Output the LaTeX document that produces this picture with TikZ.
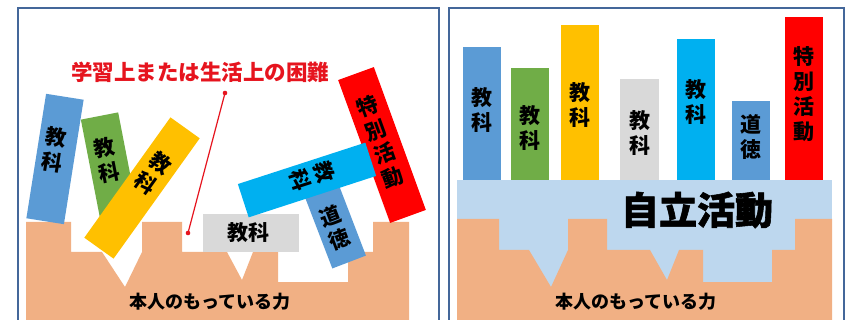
\documentclass[tikz,border=0pt]{standalone}
\usepackage{fontspec}
\newfontfamily\jp{Noto Sans CJK JP}
\newfontfamily\jph{Noto Sans CJK JP}[BoldFeatures={FakeBold=1.5}]
\definecolor{framec}{RGB}{68,103,154}
\definecolor{peach}{RGB}{241,176,132}
\definecolor{skyarea}{RGB}{189,215,238}
\definecolor{cblue}{RGB}{91,155,213}
\definecolor{cgreen}{RGB}{112,173,71}
\definecolor{cyellow}{RGB}{255,192,0}
\definecolor{cgray}{RGB}{217,217,217}
\definecolor{ccyan}{RGB}{0,176,240}
\definecolor{cred}{RGB}{255,0,0}
\definecolor{tred}{RGB}{230,20,30}
\tikzset{
  card/.style={rectangle, inner sep=0pt, draw=none},
  vtext/.style={align=center, inner sep=0pt, font=\jp\bfseries\fontsize{21}{25}\selectfont},
  htext/.style={inner sep=0pt, font=\jp\bfseries\fontsize{21}{25}\selectfont},
  basetext/.style={inner sep=0pt, font=\jp\bfseries\fontsize{18}{20}\selectfont},
  panel/.style={draw=framec, line width=2.5pt},
}
\begin{document}
\begin{tikzpicture}[x=1pt,y=-1pt]
\useasboundingbox (0,0) rectangle (848,320);
\clip (0,0) rectangle (848,320);
\fill[white] (0,0) rectangle (848,320);
% ---------------- left panel ----------------
\fill[peach] (26,222) -- (71,222) -- (71,252) -- (102,252) -- (125,287) -- (142,252)
  -- (142,222) -- (182,222) -- (182,252) -- (227,252) -- (242,280) -- (253,252)
  -- (278,252) -- (278,282) -- (348,282) -- (348,252) -- (373,252) -- (373,222)
  -- (409,222) -- (409,330) -- (26,330) -- cycle;
\node[basetext] (lbase) at (210,302) {本人のもっている力};
% cards
\node[card, fill=cblue, minimum width=38pt, minimum height=126pt, rotate=-9] (lc1) at (55,159) {};
\node[vtext, rotate=-9] (lt1) at (54,150) {教\\科};
\node[card, fill=cgreen, minimum width=38pt, minimum height=110pt, rotate=11] (lc2) at (110,170) {};
\node[vtext, rotate=11] (lt2) at (107,160) {教\\科};
\node[card, fill=cyellow, minimum width=36pt, minimum height=148pt, rotate=-35.6] (lc3) at (142,188) {};
\node[vtext, rotate=-35.6] (lt3) at (153,173) {教\\科};
\node[card, fill=cgray, minimum width=96pt, minimum height=38pt] (lc4) at (251,233) {};
\node[htext] (lt4) at (248,233) {教科};
\node[card, fill=cblue, minimum width=36pt, minimum height=90pt, rotate=21] (lc6) at (333,220) {};
\node[vtext, rotate=21] (lt6) at (335,228) {道\\徳};
\node[card, fill=cred, minimum width=38pt, minimum height=152pt, rotate=20] (lc7) at (382,145) {};
\node[vtext, rotate=20] (lt7) at (380,142) {特\\別\\活\\動};
\node[card, fill=ccyan, minimum width=35pt, minimum height=134pt, rotate=-72] (lc5) at (307,180) {};
\node[vtext, rotate=-72] (lt5) at (312,176) {教\\科};
% title and pointer
\node[inner sep=0pt, text=tred, font=\jp\bfseries\fontsize{21.5}{24}\selectfont] (title) at (200,72) {学習上または生活上の困難};
\coordinate (pa) at (225,93);
\coordinate (pb) at (188,233);
\draw[tred, line width=1.2pt] (pa) -- (pb);
\fill[tred] (pa) circle (2.3pt);
\fill[tred] (pb) circle (2.3pt);
\draw[panel] (18,8) rectangle (439,340);
% ---------------- right panel ----------------
\fill[skyarea] (457,180) rectangle (832,300);
\fill[peach] (457,219) -- (499,219) -- (499,250) -- (529,250) -- (551,287) -- (568,250)
  -- (568,219) -- (607,219) -- (607,250) -- (650,250) -- (667,280) -- (679,250)
  -- (703,250) -- (703,282) -- (772,282) -- (772,250) -- (795,250) -- (795,219)
  -- (832,219) -- (832,330) -- (457,330) -- cycle;
\node[inner sep=0pt, font=\jph\bfseries\fontsize{38}{40}\selectfont] (jiritsu) at (697,210) {自立活動};
\node[basetext] (rbase) at (636,302) {本人のもっている力};
\fill[cblue]   (463,47)  rectangle (501,180);
\fill[cgreen]  (511,68)  rectangle (549,180);
\fill[cyellow] (561,25)  rectangle (599,180);
\fill[cgray]   (620,79)  rectangle (659,180);
\fill[ccyan]   (677,39)  rectangle (715,180);
\fill[cblue]   (732,101) rectangle (770,180);
\fill[cred]    (785,17)  rectangle (823,180);
\node[vtext] (rt1) at (482,110) {教\\科};
\node[vtext] (rt2) at (530,128) {教\\科};
\node[vtext] (rt3) at (580,105) {教\\科};
\node[vtext] (rt4) at (640,133) {教\\科};
\node[vtext] (rt5) at (696,102) {教\\科};
\node[vtext] (rt6) at (751,137) {道\\徳};
\node[vtext] (rt7) at (804,94) {特\\別\\活\\動};
\draw[panel] (449,8) rectangle (844,340);
\end{tikzpicture}
\end{document}
